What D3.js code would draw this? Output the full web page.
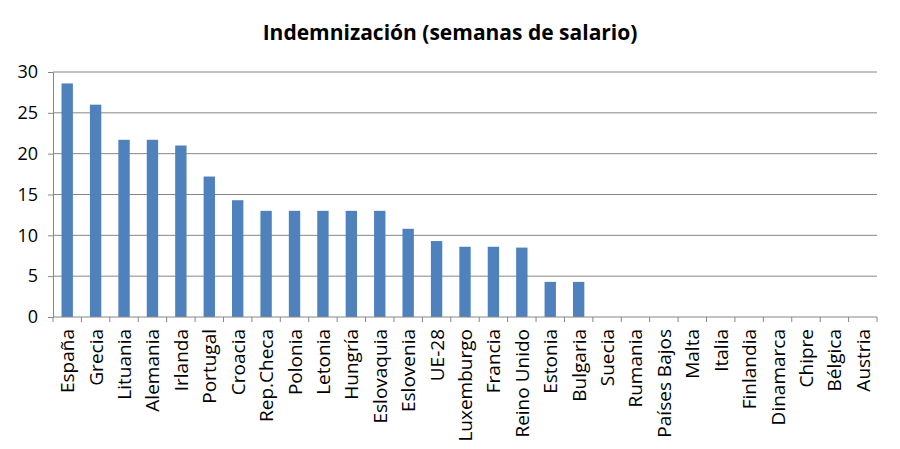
<!DOCTYPE html>
<html>
<head>
<meta charset="utf-8">
<script src="https://cdn.jsdelivr.net/npm/d3@7"></script>
<style>
  body { margin: 0; background: white; }
  text { font-family: "Open Sans", "Liberation Sans", sans-serif; fill: #000; }
</style>
</head>
<body>
<script>
// data
const countries = ["España", "Grecia", "Lituania", "Alemania", "Irlanda", "Portugal", "Croacia",
    "Rep.Checa", "Polonia", "Letonia", "Hungría", "Eslovaquia", "Eslovenia", "UE-28", "Luxemburgo",
    "Francia", "Reino Unido", "Estonia", "Bulgaria", "Suecia", "Rumania", "Países Bajos", "Malta",
    "Italia", "Finlandia", "Dinamarca", "Chipre", "Bélgica", "Austria"];
const weeks = [28.6, 26, 21.7, 21.7, 21, 17.2, 14.3, 13, 13, 13, 13, 13, 10.8, 9.3, 8.6,
    8.6, 8.5, 4.3, 4.3, 0, 0, 0, 0, 0, 0, 0, 0, 0, 0];
const yTicks = [0, 5, 10, 15, 20, 25, 30];

const width = 900, height = 449;
const margin = {top: 72, right: 23, bottom: 132, left: 53};

const svg = d3.select("body").append("svg")
    .attr("width", width)
    .attr("height", height);

const x = d3.scaleBand()
    .domain(countries)
    .range([margin.left, width - margin.right])
    .paddingInner(0.6)
    .paddingOuter(0.3);

const y = d3.scaleLinear()
    .domain([0, 30])
    .range([height - margin.bottom, margin.top]);

// title
svg.append("text")
    .attr("x", 450)
    .attr("y", 40)
    .attr("text-anchor", "middle")
    .style("font-size", "21px")
    .style("font-weight", "bold")
    .text("Indemnización (semanas de salario)");

// gridlines + y labels
const yAxis = svg.append("g")
    .attr("transform", `translate(${margin.left},0)`)
    .call(d3.axisLeft(y).tickValues(yTicks).tickSize(5).tickPadding(10));
yAxis.select(".domain").attr("stroke", "#868686");
yAxis.selectAll(".tick line").attr("stroke", "#868686");
yAxis.selectAll(".tick text").style("font-size", "18px").attr("fill", "#000");

svg.append("g")
    .selectAll("line")
    .data(yTicks.filter(d => d > 0))
    .enter().append("line")
    .attr("x1", margin.left)
    .attr("x2", width - margin.right)
    .attr("y1", d => y(d))
    .attr("y2", d => y(d))
    .attr("stroke", "#868686")
    .attr("stroke-width", 1);

// bars
svg.append("g")
    .selectAll("rect")
    .data(weeks)
    .enter().append("rect")
    .attr("x", (d, i) => x(countries[i]))
    .attr("y", d => y(d))
    .attr("width", x.bandwidth())
    .attr("height", d => y(0) - y(d))
    .attr("fill", "#4f81bd");

// x axis with boundary ticks
const x0 = height - margin.bottom;
const xAxis = svg.append("g");
xAxis.append("line")
    .attr("x1", margin.left)
    .attr("x2", width - margin.right)
    .attr("y1", x0)
    .attr("y2", x0)
    .attr("stroke", "#868686");
xAxis.selectAll("line.tk")
    .data(d3.range(countries.length + 1))
    .enter().append("line")
    .attr("class", "tk")
    .attr("x1", i => margin.left + i * (width - margin.left - margin.right) / countries.length)
    .attr("x2", i => margin.left + i * (width - margin.left - margin.right) / countries.length)
    .attr("y1", x0)
    .attr("y2", x0 + 5)
    .attr("stroke", "#868686");

xAxis.selectAll("text")
    .data(countries)
    .enter().append("text")
    .attr("transform", d => `translate(${x(d) + x.bandwidth() / 2 + 7},${x0 + 12}) rotate(-90)`)
    .attr("text-anchor", "end")
    .style("font-size", "19px")
    .text(d => d);
</script>
</body>
</html>
